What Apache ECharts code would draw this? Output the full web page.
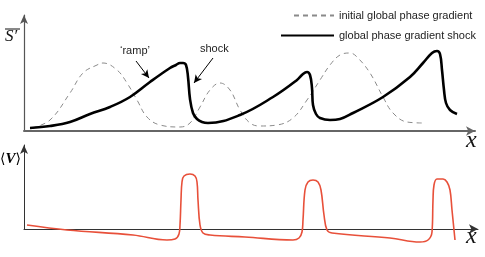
<!DOCTYPE html>
<html>
<head>
<meta charset="utf-8">
<script src="https://cdn.jsdelivr.net/npm/echarts@6/dist/echarts.min.js"></script>
<style>html,body{margin:0;padding:0;background:#fff}#c{width:485px;height:257px}</style>
</head>
<body>
<div id="c"></div>
<script>
// position along x, amplitude
const shockCurve = [[6,5],[26,7],[46,11],[66,19],[86,26],[106,36],[126,51],[146,65],[152,68],[156,70],[159,70],[162,68],[164,56],[166,34],[169,20],[173,14],[178,11],[184,10],[216,18],[249,36],[273,53],[279,59],[283,61],[286,58],[288,45],[289,28],[292,19],[296,15],[306,13],[316,14],[329,20],[359,36],[386,56],[399,70],[408,80],[413,82],[416,79],[418,63],[420,43],[422,30],[426,23],[433,19]];
const initialCurve = [[8,5],[26,13],[46,40],[59,60],[73,68],[79,70],[93,63],[103,50],[113,33],[123,16],[136,8],[156,6],[166,10],[176,26],[186,43],[196,50],[206,43],[216,23],[226,10],[236,7],[253,8],[269,15],[283,33],[296,53],[306,68],[316,78],[326,80],[333,76],[346,60],[359,36],[369,20],[383,11],[399,10]];
const velocityCurve = [[3,4],[43,-1],[109,-6],[143,-11],[151,-10],[155,-5],[156,4],[157,29],[158,47],[160,53],[166,55],[171,53],[173,47],[174,29],[176,4],[179,-4],[186,-6],[221,-8],[269,-11],[275,-9],[278,-3],[279,9],[281,39],[284,47],[289,49],[294,47],[297,39],[300,14],[303,-1],[308,-4],[366,-9],[396,-13],[404,-11],[408,-3],[409,29],[410,44],[413,50],[419,50],[423,47],[426,39],[428,19],[431,-11]];
const seriesNames = ['initial global phase gradient', 'global phase gradient shock'];

const chart = echarts.init(document.getElementById('c'));
const sans = '"Liberation Sans", Arial, Helvetica, sans-serif';
const serif = '"Liberation Serif", "DejaVu Serif", "Times New Roman", serif';
const noAxisBits = {axisTick:{show:false}, axisLabel:{show:false}, splitLine:{show:false}};
const legendCommon = {itemHeight:14, itemGap:0, itemStyle:{opacity:0},
  textStyle:{fontSize:11, color:'#222', fontFamily:sans}};
chart.setOption({
  animation: false,
  grid: [
    {left: 24, right: 10, top: 15, bottom: 126},
    {left: 24, right: 7, top: 145, bottom: 28}
  ],
  xAxis: [
    Object.assign({type:'value', gridIndex:0, min:0, max:451,
      axisLine:{show:true, symbol:['none','arrow'], symbolSize:[7,9], lineStyle:{color:'#666', width:2}}}, noAxisBits),
    Object.assign({type:'value', gridIndex:1, min:0, max:454,
      axisLine:{show:true, symbol:['none','arrow'], symbolSize:[7,9], lineStyle:{color:'#333', width:1}}}, noAxisBits)
  ],
  yAxis: [
    Object.assign({type:'value', gridIndex:0, min:2, max:118,
      axisLine:{show:true, onZero:false, symbol:['none','arrow'], symbolSize:[6,9], lineStyle:{color:'#555', width:1.2}}}, noAxisBits),
    Object.assign({type:'value', gridIndex:1, min:0, max:84,
      axisLine:{show:true, symbol:['none','arrow'], symbolSize:[6,9], lineStyle:{color:'#333', width:1}}}, noAxisBits)
  ],
  legend: [
    Object.assign({data:[seriesNames[0]], left:288, top:5, itemWidth:40}, legendCommon),
    Object.assign({data:[seriesNames[1]], left:275, top:25, itemWidth:53}, legendCommon)
  ],
  series: [
    {name: seriesNames[0], type:'line', xAxisIndex:0, yAxisIndex:0, data: initialCurve,
     smooth:0.4, showSymbol:false, symbol:'none', clip:false,
     lineStyle:{color:'#8a8a8a', width:1, type:[5,4]}, itemStyle:{color:'#8a8a8a'}},
    {name: seriesNames[1], type:'line', xAxisIndex:0, yAxisIndex:0, data: shockCurve,
     smooth:0.4, showSymbol:false, symbol:'none', clip:false,
     lineStyle:{color:'#000', width:2.6}, itemStyle:{color:'#000'},
     markLine:{silent:true, symbol:['none','arrow'], symbolSize:[6,8],
       lineStyle:{color:'#000', width:1, type:'solid'}, label:{show:false},
       data:[
         [{coord:[112,72]},{coord:[125,55]}],
         [{coord:[189,75]},{coord:[170,50]}]
       ]}},
    {name:'velocity', type:'line', xAxisIndex:1, yAxisIndex:1, data: velocityCurve,
     smooth:0.4, showSymbol:false, symbol:'none', clip:false,
     lineStyle:{color:'#e8503a', width:1.6}, itemStyle:{color:'#e8503a'}}
  ],
  graphic: [
    {type:'text', left:120, top:45, style:{text:'\u2018ramp\u2019', font:'11px '+sans, fill:'#222'}},
    {type:'text', left:200, top:43, style:{text:'shock', font:'11px '+sans, fill:'#222'}},
    {type:'text', left:466, top:129, style:{text:'x', font:'italic 24px '+serif, fill:'#111'}},
    {type:'text', left:466, top:225, style:{text:'x', font:'italic 24px '+serif, fill:'#111'}},
    {type:'text', left:5, top:28, style:{text:'S\u2032', font:'italic 17px '+serif, fill:'#111'}},
    {type:'line', shape:{x1:5, y1:29, x2:20, y2:29}, style:{stroke:'#111', lineWidth:1}},
    {type:'text', left:0, top:152, style:{
      text:'{a|\u27E8}{b|V}{a|\u27E9}',
      rich:{a:{fontSize:14, fontFamily:'"DejaVu Sans", sans-serif', color:'#111'},
            b:{fontSize:15, fontStyle:'italic', fontWeight:'bold', fontFamily:serif, color:'#111'}}}}
  ]
});
</script>
</body>
</html>
